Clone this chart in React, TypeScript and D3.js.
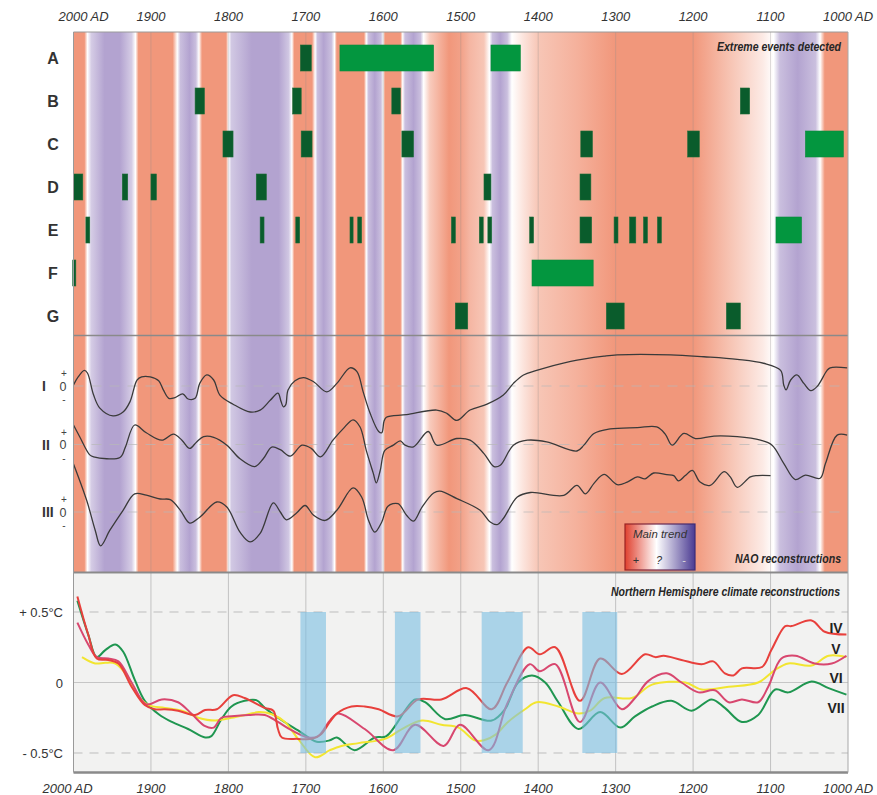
import * as d3 from 'd3';

const FONT = '"Liberation Sans", Arial, Helvetica, sans-serif';

// background trend stripes: [year, trend] (+1 = positive NAO, -1 = negative)
const trendStops: [number, number][] = [
  [2000, 1], [1986, 1], [1982, 0], [1977, -0.55], [1960, -1], [1940, -1], [1925, -0.55], [1920, 0],
  [1916, 1], [1872, 1], [1866, 0], [1862, -0.7], [1850, -1], [1842, -0.7], [1838, 0],
  [1834, 1], [1803, 1], [1800, 0], [1796, -0.6], [1770, -1], [1735, -1], [1722, -0.6], [1718, 0],
  [1715, 1], [1692, 1], [1688, 0], [1685, -0.7], [1677, -1], [1667, -0.7], [1663, 0],
  [1660, 1], [1625, 1], [1622, 0], [1619, -0.7], [1611, -1], [1603, -0.7], [1600, 0],
  [1598, 1], [1578, 1], [1575, 0], [1572, -0.7], [1561, -1], [1552, -0.7], [1548, 0],
  [1540, 0.5], [1515, 1], [1500, 0.9], [1488, 0.7], [1470, 0.55], [1463, 0],
  [1459, -0.7], [1449, -1], [1440, -0.7], [1434, 0], [1420, 0.25], [1400, 0.55], [1350, 0.75],
  [1300, 1], [1200, 1], [1150, 0.55], [1110, 0.2], [1096, 0], [1088, -0.7], [1065, -1],
  [1042, -0.7], [1036, 0], [1030, 1], [1000, 1],
];

// extreme events [from, to] per record
const rowNames = ['A', 'B', 'C', 'D', 'E', 'F', 'G'];
const eventsA: [number, number][] = [[1707, 1693], [1656, 1535], [1461, 1423]];
const eventsB: [number, number][] = [[1843, 1831], [1717, 1706], [1589, 1578], [1139, 1127]];
const eventsC: [number, number][] = [[1807, 1794], [1706, 1692], [1576, 1561], [1345, 1330], [1207, 1192], [1055, 1006]];
const eventsD: [number, number][] = [[2000, 1988], [1937, 1930], [1900, 1893], [1764, 1751], [1470, 1461], [1346, 1332]];
const eventsE: [number, number][] = [
  [1984, 1979], [1759, 1754], [1713, 1708], [1643, 1639], [1633, 1628], [1512, 1507], [1476, 1471],
  [1465, 1460], [1411, 1406], [1346, 1331], [1302, 1297], [1282, 1274], [1264, 1259], [1246, 1241], [1093, 1060],
];
const eventsF: [number, number][] = [[2001, 1997], [1408, 1329]];
const eventsG: [number, number][] = [[1507, 1491], [1312, 1289], [1157, 1139]];
const eventRows = [eventsA, eventsB, eventsC, eventsD, eventsE, eventsF, eventsG];

// NAO reconstructions (anomaly units)
const naoNames = ['I', 'II', 'III'];
const naoI: [number, number][] = [
  [2000, 0.08], [1994, 0.7], [1986, 1.2], [1982, 1.0], [1974, -0.7], [1966, -1.7], [1949, -2.3], [1936, -2.0],
  [1927, -1.2], [1918, 0.46], [1912, 0.7], [1901, 0.7], [1890, 0.4], [1884, -0.3], [1877, -0.95], [1869, -0.9],
  [1859, -0.6], [1852, -1.0], [1843, -0.95], [1837, 0.2], [1828, 0.85], [1819, 0.46], [1811, -0.7], [1794, -1.4],
  [1772, -2.0], [1759, -1.85], [1746, -1.1], [1736, -0.55], [1732, -1.2], [1729, -1.6], [1726, -1.45], [1723, -0.3],
  [1714, 0.4], [1703, 0.65], [1690, 0.33], [1673, -0.45], [1660, 0.2], [1643, 1.4], [1634, 1.1], [1626, -0.45],
  [1617, -2.1], [1606, -3.5], [1602, -3.6], [1599, -2.7], [1596, -2.4], [1570, -2.2], [1531, -1.85], [1518, -2.1],
  [1505, -2.65], [1488, -1.85], [1466, -1.4], [1445, -0.7], [1432, 0.2], [1419, 0.85], [1402, 1.2], [1358, 1.9],
  [1315, 2.3], [1298, 2.4], [1229, 2.4], [1186, 2.25], [1143, 2.05], [1109, 1.75], [1087, 1.2], [1083, 0.08],
  [1080, -0.3], [1074, 0.46], [1066, 0.85], [1057, 0.2], [1048, -0.36], [1040, -0.05], [1027, 1.2], [1023, 1.4],
  [1001, 1.4],
];
const naoII: [number, number][] = [
  [2000, 1.5], [1992, 0.6], [1979, -0.8], [1974, -0.95], [1940, -1.0], [1933, -0.2], [1921, 1.5], [1906, 0.9],
  [1886, 0.33], [1871, 0.8], [1860, 0.33], [1850, -0.3], [1841, 0.2], [1832, 0.6], [1819, 0.55], [1802, -0.05],
  [1785, -1.1], [1766, -1.7], [1755, -1.1], [1744, -0.2], [1733, -0.4], [1720, -0.9], [1705, -0.05], [1693, -0.3],
  [1681, -0.95], [1665, 0.33], [1652, 1.2], [1639, 1.9], [1630, 1.35], [1622, -0.45], [1613, -2.2], [1609, -2.95],
  [1604, -2.0], [1598, -0.45], [1587, -0.05], [1578, 0.28], [1572, -0.05], [1561, -0.18], [1542, 1.0], [1531, -0.05],
  [1505, 0.46], [1488, 0.33], [1470, -0.7], [1457, -1.7], [1449, -1.6], [1432, -0.05], [1414, 0.33], [1389, 0.2],
  [1350, -0.5], [1341, -0.05], [1328, 0.85], [1307, 1.2], [1272, 1.3], [1247, 1.35], [1236, 0.8], [1227, -0.05],
  [1212, 0.85], [1197, 0.46], [1173, 0.65], [1143, 0.6], [1113, 0.33], [1098, -0.05], [1083, -1.45], [1068, -2.7],
  [1055, -2.35], [1036, -2.6], [1029, -1.45], [1014, 0.72], [1001, 0.72],
];
const naoIII: [number, number][] = [
  [2000, 3.7], [1983, 0.9], [1972, -1.4], [1965, -2.6], [1953, -1.4], [1936, 0.13], [1921, 1.4], [1906, 1.3],
  [1888, 1.0], [1875, 0.95], [1862, 0.13], [1850, -0.85], [1837, -0.4], [1815, 0.77], [1802, 0.38], [1785, -1.55],
  [1772, -2.3], [1759, -1.65], [1742, 0.7], [1733, 0], [1725, -0.6], [1712, -0.08], [1701, 0.5], [1690, -0.25],
  [1675, -0.65], [1660, 0.13], [1639, 1.85], [1628, 1.15], [1619, -0.65], [1611, -1.55], [1602, -0.77], [1594, 0.44],
  [1581, 0.64], [1570, -0.25], [1561, -0.7], [1550, 0.38], [1535, 1.46], [1527, 1.6], [1505, 1.03], [1475, 0.13],
  [1462, -0.77], [1453, -0.97], [1445, -0.5], [1427, 1.15], [1410, 1.5], [1367, 1.28], [1350, 2.05], [1339, 1.4],
  [1328, 2.2], [1315, 2.9], [1298, 2.1], [1285, 2.3], [1272, 2.7], [1262, 2.55], [1251, 3.0], [1234, 2.87],
  [1225, 2.8], [1219, 2.4], [1210, 2.8], [1201, 3.2], [1191, 2.3], [1178, 2.05], [1160, 3.1], [1152, 2.7],
  [1143, 1.9], [1126, 2.7], [1117, 2.8], [1100, 2.8],
];
const naoSeries = [naoI, naoII, naoIII];

// Northern Hemisphere temperature reconstructions (°C anomaly)
const nhIV: [number, number][] = [
  [1995, 0.61], [1981, 0.34], [1970, 0.17], [1955, 0.16], [1942, 0.135], [1925, -0.03], [1908, -0.16], [1895, -0.19],
  [1882, -0.19], [1865, -0.2], [1843, -0.23], [1830, -0.195], [1815, -0.19], [1794, -0.09], [1779, -0.11],
  [1753, -0.18], [1742, -0.2], [1736, -0.33], [1731, -0.39], [1710, -0.4], [1692, -0.4], [1680, -0.365],
  [1669, -0.28], [1660, -0.22], [1641, -0.17], [1624, -0.17], [1606, -0.19], [1581, -0.24], [1555, -0.12],
  [1525, -0.12], [1492, -0.04], [1460, -0.19], [1440, 0.0], [1413, 0.25], [1398, 0.2], [1378, 0.25], [1346, -0.13],
  [1320, 0.17], [1292, 0.06], [1262, 0.2], [1249, 0.18], [1238, 0.19], [1215, 0.16], [1189, 0.13], [1174, 0.15],
  [1159, 0.065], [1148, 0.05], [1137, 0.1], [1111, 0.11], [1099, 0.23], [1081, 0.4], [1073, 0.4], [1047, 0.44],
  [1030, 0.36], [1002, 0.34],
];
const nhV: [number, number][] = [
  [1989, 0.18], [1972, 0.135], [1959, 0.14], [1946, 0.135], [1933, 0.065], [1916, -0.1], [1903, -0.16], [1882, -0.18],
  [1860, -0.2], [1839, -0.25], [1817, -0.27], [1796, -0.25], [1774, -0.225], [1761, -0.21], [1744, -0.225],
  [1727, -0.28], [1710, -0.4], [1688, -0.53], [1669, -0.48], [1654, -0.45], [1632, -0.43], [1598, -0.4],
  [1576, -0.33], [1550, -0.27], [1525, -0.3], [1503, -0.32], [1482, -0.41], [1470, -0.41], [1455, -0.37],
  [1439, -0.28], [1417, -0.19], [1402, -0.14], [1374, -0.17], [1348, -0.22], [1333, -0.2], [1314, -0.11],
  [1279, -0.11], [1253, -0.015], [1210, 0.0], [1189, -0.05], [1154, -0.03], [1116, 0.0], [1094, 0.09],
  [1077, 0.135], [1047, 0.12], [1025, 0.19], [1002, 0.18],
];
const nhVI: [number, number][] = [
  [1995, 0.425], [1981, 0.27], [1970, 0.18], [1955, 0.17], [1942, 0.15], [1925, 0.0], [1906, -0.155], [1886, -0.12],
  [1865, -0.14], [1847, -0.225], [1830, -0.31], [1819, -0.32], [1809, -0.25], [1796, -0.24], [1774, -0.23],
  [1753, -0.23], [1736, -0.28], [1718, -0.34], [1697, -0.39], [1684, -0.38], [1669, -0.27], [1658, -0.22],
  [1624, -0.33], [1587, -0.48], [1559, -0.3], [1522, -0.45], [1501, -0.3], [1464, -0.48], [1440, -0.15],
  [1411, 0.13], [1398, 0.08], [1378, 0.13], [1346, -0.28], [1320, 0.0], [1292, -0.19], [1275, -0.11], [1258, 0.01],
  [1234, 0.065], [1215, 0.0], [1193, -0.07], [1172, -0.055], [1154, -0.14], [1137, -0.12], [1116, -0.14],
  [1103, -0.03], [1086, 0.17], [1068, 0.19], [1043, 0.135], [1021, 0.135], [1002, 0.19],
];
const nhVII: [number, number][] = [
  [1995, 0.58], [1981, 0.34], [1970, 0.18], [1959, 0.23], [1946, 0.27], [1936, 0.22], [1921, 0.02], [1908, -0.13],
  [1890, -0.225], [1873, -0.28], [1852, -0.33], [1830, -0.39], [1822, -0.38], [1809, -0.26], [1796, -0.17],
  [1779, -0.13], [1764, -0.125], [1753, -0.18], [1736, -0.25], [1710, -0.34], [1686, -0.42], [1669, -0.41],
  [1660, -0.39], [1637, -0.48], [1611, -0.39], [1596, -0.38], [1559, -0.12], [1546, -0.14], [1520, -0.26],
  [1495, -0.23], [1460, -0.27], [1443, -0.19], [1426, 0.0], [1408, 0.05], [1391, 0.0], [1374, -0.14], [1348, -0.33],
  [1320, -0.21], [1294, -0.32], [1275, -0.24], [1253, -0.17], [1228, -0.13], [1202, -0.2], [1176, -0.12],
  [1159, -0.18], [1137, -0.28], [1116, -0.23], [1094, -0.05], [1077, -0.07], [1047, 0.007], [1025, -0.04],
  [1002, -0.086],
];
const nhNames = ['IV', 'V', 'VI', 'VII'];
const nhLabelValues = [0.39, 0.24, 0.035, -0.18];

// cold periods highlighted in the bottom panel
const coldSpans: [number, number][] = [[1707, 1674], [1585, 1552], [1473, 1420], [1343, 1298]];

const centuries = d3.range(2000, 999, -100);

export default function App() {
  const width = 877;
  const height = 795;
  const left = 73.5;
  const right = 848;
  const topY = 32;
  const midY = 335.5;
  const lowY = 572.5;
  const bottomY = 772.5;

  const x = d3.scaleLinear().domain([2000, 1000]).range([left, right]);
  const rowY = d3.scalePoint<string>().domain(rowNames).range([58, 316]);
  const naoBase = d3.scaleOrdinal<string, number>().domain(naoNames).range([386, 444.5, 512]);
  const naoY = d3.scaleLinear().domain([-1, 1]).range([13, -13]);
  const tempY = d3.scaleLinear().domain([-0.5, 0.5]).range([753, 612]);
  const trendColor = d3.scaleLinear<string>()
    .domain([-1, 0, 1])
    .range(['#b3a3d0', '#ffffff', '#f1977b'])
    .interpolate(d3.interpolateRgb);

  const nhLine = d3.line<[number, number]>()
    .x(d => x(d[0]))
    .y(d => tempY(d[1]))
    .curve(d3.curveCatmullRom.alpha(0.5));

  const nhColors = ['#e8403c', '#f2e530', '#d8476f', '#1f9650'];
  const nhSeries = [nhIV, nhV, nhVI, nhVII];
  const drawOrder = [3, 1, 2, 0];

  return (
    <svg width={width} height={height} style={{ position: 'absolute', left: 0, top: 0, fontFamily: FONT }}>
      <defs>
        <linearGradient id="trend" gradientUnits="userSpaceOnUse" x1={left} x2={right} y1={0} y2={0}>
          {trendStops.map(([yr, v], i) => (
            <stop key={i} offset={(x(yr) - left) / (right - left)} stopColor={trendColor(v)} />
          ))}
        </linearGradient>
        <linearGradient id="legendFill" x1="0" x2="1" y1="0" y2="0">
          <stop offset="0" stopColor="#e0402e" />
          <stop offset="0.45" stopColor="#ffffff" />
          <stop offset="1" stopColor="#4a3a92" />
        </linearGradient>
        <linearGradient id="legendStroke" x1="0" x2="1" y1="0" y2="0">
          <stop offset="0" stopColor="#9a2222" />
          <stop offset="1" stopColor="#3b2c78" />
        </linearGradient>
      </defs>

      <rect width={width} height={height} fill="#ffffff" />

      {/* trend stripes behind top and middle panels */}
      <rect x={left} y={topY} width={right - left} height={lowY - topY} fill="url(#trend)" />
      {centuries.slice(1, -1).map(c => (
        <line key={c} x1={x(c)} x2={x(c)} y1={topY} y2={lowY} stroke="#8a8a8a" strokeOpacity={0.3} />
      ))}

      {/* extreme events */}
      {eventRows.map((events, r) =>
        events.map(([a, b], i) => (
          <rect
            key={`${r}-${i}`}
            x={x(a)}
            y={(rowY(rowNames[r]) ?? 0) - 13}
            width={x(b) - x(a)}
            height={26}
            fill={a - b >= 30 ? '#03963f' : '#0a5c2c'}
            stroke={a - b >= 30 ? '#0c8a3c' : '#1d6b37'}
            strokeWidth={0.6}
          />
        ))
      )}
      {rowNames.map(n => (
        <text key={n} x={53} y={(rowY(n) ?? 0) + 6} textAnchor="middle" fontSize={16} fontWeight="bold" fill="#333">
          {n}
        </text>
      ))}
      <text x={841} y={51} textAnchor="end" fontSize={12} fontWeight="bold" fontStyle="italic" fill="#262626"
        textLength={124} lengthAdjust="spacingAndGlyphs">Extreme events detected</text>

      {/* NAO reconstructions */}
      {naoNames.map((n, i) => {
        const base = naoBase(n);
        const line = d3.line<[number, number]>()
          .x(d => x(d[0]))
          .y(d => base + naoY(d[1]))
          .curve(d3.curveCatmullRom.alpha(0.5));
        return (
          <g key={n}>
            <line x1={left} x2={right} y1={base} y2={base} stroke="#b8b8b8" strokeOpacity={0.7} strokeDasharray="10,8" />
            <path d={line(naoSeries[i]) ?? ''} fill="none" stroke="#3a3a3a" strokeWidth={1.3} />
            <text x={42} y={base + 5} fontSize={14} fontWeight="bold" fill="#333">{n}</text>
            <text x={64} y={base - 9} textAnchor="middle" fontSize={10} fill="#444">+</text>
            <text x={63} y={base + 4.5} textAnchor="middle" fontSize={12.5} fill="#444">0</text>
            <text x={64} y={base + 17} textAnchor="middle" fontSize={10} fill="#444">-</text>
          </g>
        );
      })}
      <g>
        <rect x={625} y={524} width={70} height={46} fill="url(#legendFill)" stroke="url(#legendStroke)" strokeWidth={1.2} />
        <text x={660} y={538} textAnchor="middle" fontSize={11} fontStyle="italic" fill="#333"
          textLength={54} lengthAdjust="spacingAndGlyphs">Main trend</text>
        <text x={636} y={564} textAnchor="middle" fontSize={11} fill="#333">+</text>
        <text x={659} y={564} textAnchor="middle" fontSize={11} fontStyle="italic" fill="#333">?</text>
        <text x={684} y={564} textAnchor="middle" fontSize={11} fill="#ddd">-</text>
      </g>
      <text x={841} y={563} textAnchor="end" fontSize={12} fontWeight="bold" fontStyle="italic" fill="#262626"
        textLength={106} lengthAdjust="spacingAndGlyphs">NAO reconstructions</text>

      {/* Northern Hemisphere panel */}
      <rect x={left} y={lowY + 1} width={right - left} height={bottomY - lowY - 1} fill="#f2f2f1" />
      {centuries.slice(1, -1).map(c => (
        <line key={c} x1={x(c)} x2={x(c)} y1={lowY} y2={bottomY} stroke="#c2c2c2" />
      ))}
      <line x1={left} x2={right} y1={tempY(0)} y2={tempY(0)} stroke="#c6c6c6" />
      {[0.5, -0.5].map(v => (
        <line key={v} x1={left} x2={right} y1={tempY(v)} y2={tempY(v)} stroke="#bdbdbd" strokeDasharray="9,7" />
      ))}
      {drawOrder.map(i => (
        <path key={i} d={nhLine(nhSeries[i]) ?? ''} fill="none" stroke={nhColors[i]} strokeWidth={2} />
      ))}
      {coldSpans.map(([a, b], i) => (
        <rect key={i} x={x(a)} y={tempY(0.5)} width={x(b) - x(a)} height={tempY(-0.5) - tempY(0.5)}
          fill="#7abee2" fillOpacity={0.6} />
      ))}
      {nhNames.map((n, i) => (
        <text key={n} x={836} y={tempY(nhLabelValues[i]) + 5} textAnchor="middle" fontSize={14} fontWeight="bold" fill="#222">
          {n}
        </text>
      ))}
      <text x={840} y={596} textAnchor="end" fontSize={12} fontWeight="bold" fontStyle="italic" fill="#262626"
        textLength={229} lengthAdjust="spacingAndGlyphs">Northern Hemisphere climate reconstructions</text>
      <text x={63} y={tempY(0.5) + 5} textAnchor="end" fontSize={13} fill="#333">+ 0.5°C</text>
      <text x={63} y={tempY(0) + 5} textAnchor="end" fontSize={13} fill="#333">0</text>
      <text x={63} y={tempY(-0.5) + 5} textAnchor="end" fontSize={13} fill="#333">- 0.5°C</text>

      {/* frame */}
      <line x1={left} x2={right} y1={topY} y2={topY} stroke="#9a9a9a" />
      <line x1={left} x2={right} y1={midY} y2={midY} stroke="#8a8a8a" strokeWidth={1.5} />
      <line x1={left} x2={right} y1={lowY} y2={lowY} stroke="#8a8a8a" strokeWidth={2} />
      <line x1={left} x2={right} y1={bottomY} y2={bottomY} stroke="#8a8a8a" strokeWidth={2.5} />
      <line x1={left} x2={left} y1={topY} y2={bottomY} stroke="#9a9a9a" />
      <line x1={right} x2={right} y1={topY} y2={bottomY} stroke="#a8a8a8" />

      {/* year axes */}
      {centuries.map(c => (
        <g key={c}>
          <text x={x(c) + (c === 2000 ? 10 : 0)} y={21} textAnchor="middle" fontSize={13} fontStyle="italic" fill="#333">
            {c === 2000 || c === 1000 ? `${c} AD` : c}
          </text>
          <text x={x(c) + (c === 2000 ? -6 : 0)} y={793} textAnchor="middle" fontSize={13} fontStyle="italic" fill="#333">
            {c === 2000 || c === 1000 ? `${c} AD` : c}
          </text>
        </g>
      ))}
    </svg>
  );
}
